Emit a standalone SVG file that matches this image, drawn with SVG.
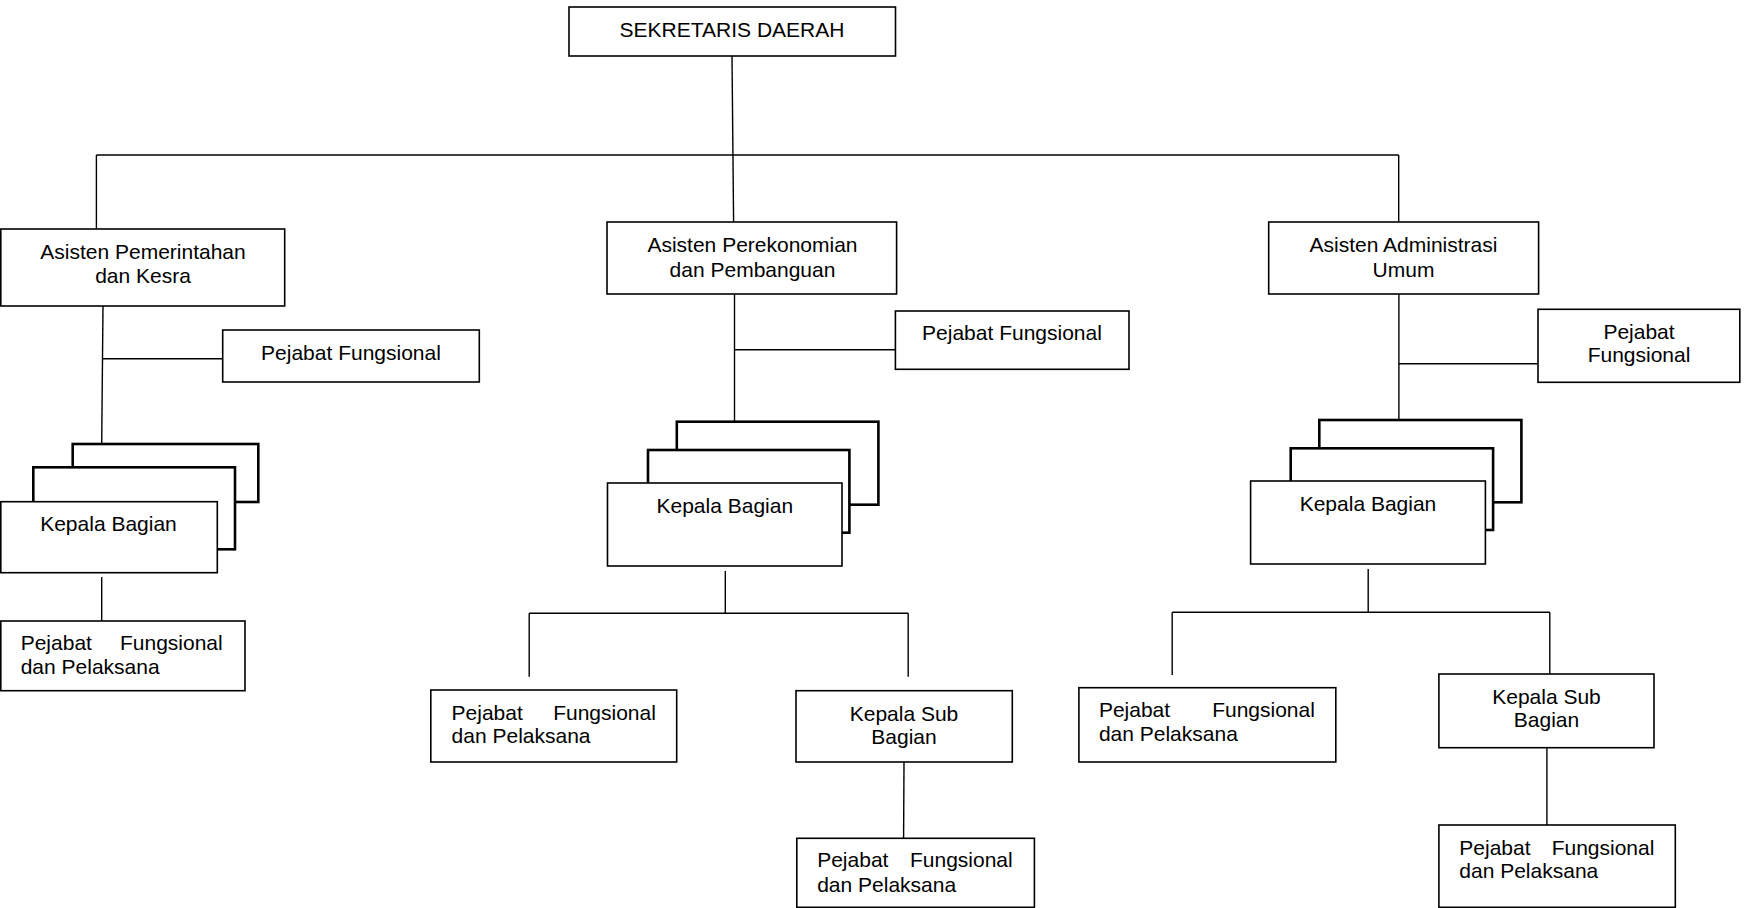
<svg xmlns="http://www.w3.org/2000/svg" width="1747" height="908" viewBox="0 0 1747 908">
  <style>
    .box { fill: #fff; stroke: #000; stroke-width: 1.6; }
    .stack { fill: #fff; stroke: #000; stroke-width: 2.6; }
    .conn { fill: none; stroke: #000; stroke-width: 1.4; }
    text { font-family: "Liberation Sans", Arial, sans-serif; font-size: 21px; fill: #000; }
    .c { text-anchor: middle; }
    .e { text-anchor: end; }
  </style>
  <rect width="1747" height="908" fill="#fff"/>

  <!-- connectors -->
  <g id="connectors" class="conn">
    <!-- top level -->
    <line x1="732" y1="56" x2="733.6" y2="222"/>
    <line x1="96.4" y1="155" x2="1398.7" y2="155"/>
    <line x1="96.4" y1="155" x2="96.4" y2="229"/>
    <line x1="1398.7" y1="155" x2="1398.7" y2="222"/>
    <!-- left branch -->
    <line x1="103" y1="306" x2="101.7" y2="444"/>
    <line x1="103" y1="358.7" x2="225.7" y2="358.7"/>
    <line x1="101.7" y1="577" x2="101.7" y2="621"/>
    <!-- middle branch -->
    <line x1="734.5" y1="294" x2="734.5" y2="421.7"/>
    <line x1="734.5" y1="349.7" x2="895.4" y2="349.7"/>
    <line x1="725.3" y1="571" x2="725.3" y2="613.3"/>
    <line x1="529.2" y1="613.3" x2="908.2" y2="613.3"/>
    <line x1="529.2" y1="613.3" x2="529.2" y2="676.7"/>
    <line x1="908.2" y1="613.3" x2="908.2" y2="676.7"/>
    <line x1="904" y1="762" x2="903.6" y2="838.3"/>
    <!-- right branch -->
    <line x1="1398.9" y1="294" x2="1398.9" y2="420"/>
    <line x1="1398.9" y1="363.7" x2="1538" y2="363.7"/>
    <line x1="1368.2" y1="569" x2="1368.2" y2="612.3"/>
    <line x1="1172.2" y1="612.3" x2="1549.8" y2="612.3"/>
    <line x1="1172.2" y1="612.3" x2="1172.2" y2="675"/>
    <line x1="1549.8" y1="612.3" x2="1549.8" y2="674"/>
    <line x1="1546.9" y1="747.7" x2="1546.9" y2="825"/>
  </g>

  <g id="sekretaris-daerah">
    <rect class="box" x="569" y="7" width="326.5" height="49"/>
    <text class="c" x="732" y="36.5">SEKRETARIS DAERAH</text>
  </g>

  <!-- left column -->
  <g id="asisten-pemerintahan">
    <rect class="box" x="0.8" y="229" width="283.9" height="77"/>
    <text class="c" x="143" y="259">Asisten Pemerintahan</text>
    <text class="c" x="143" y="282.7">dan Kesra</text>
  </g>
  <g id="pf-pemerintahan">
    <rect class="box" x="222.7" y="330" width="256.6" height="52"/>
    <text class="c" x="351" y="360">Pejabat Fungsional</text>
  </g>
  <g id="kabag-pemerintahan">
    <rect class="stack" x="72.7" y="444" width="185.6" height="58"/>
    <rect class="stack" x="33.3" y="467.3" width="201.7" height="82"/>
    <rect class="box" x="0.8" y="501.7" width="216.5" height="71"/>
    <text class="c" x="108.5" y="530.7">Kepala Bagian</text>
  </g>
  <g id="pfp-pemerintahan">
    <rect class="box" x="0.8" y="621" width="244.2" height="69.7"/>
    <text y="650"><tspan x="20.7">Pejabat</tspan><tspan class="e" x="222.7">Fungsional</tspan></text>
    <text x="20.7" y="674">dan Pelaksana</text>
  </g>

  <!-- middle column -->
  <g id="asisten-perekonomian">
    <rect class="box" x="607" y="222" width="289.6" height="72"/>
    <text class="c" x="752.5" y="252.3">Asisten Perekonomian</text>
    <text class="c" x="752.5" y="276.7">dan Pembanguan</text>
  </g>
  <g id="pf-perekonomian">
    <rect class="box" x="895.4" y="311" width="233.6" height="58.3"/>
    <text class="c" x="1012" y="340">Pejabat Fungsional</text>
  </g>
  <g id="kabag-perekonomian">
    <rect class="stack" x="676.8" y="421.7" width="201.6" height="83"/>
    <rect class="stack" x="648" y="450" width="201.4" height="82.7"/>
    <rect class="box" x="607.5" y="483" width="234.5" height="83"/>
    <text class="c" x="724.8" y="512.7">Kepala Bagian</text>
  </g>
  <g id="pfp-perekonomian">
    <rect class="box" x="430.8" y="690" width="245.9" height="72"/>
    <text y="720"><tspan x="451.6">Pejabat</tspan><tspan class="e" x="655.9">Fungsional</tspan></text>
    <text x="451.6" y="743.3">dan Pelaksana</text>
  </g>
  <g id="kasubag-perekonomian">
    <rect class="box" x="796" y="690.7" width="216.3" height="71.3"/>
    <text class="c" x="904" y="720.7">Kepala Sub</text>
    <text class="c" x="904" y="744">Bagian</text>
  </g>
  <g id="pfp-kasubag-perekonomian">
    <rect class="box" x="796.8" y="838.3" width="237.6" height="69"/>
    <text y="867.3"><tspan x="817.2">Pejabat</tspan><tspan class="e" x="1012.7">Fungsional</tspan></text>
    <text x="817.2" y="891.7">dan Pelaksana</text>
  </g>

  <!-- right column -->
  <g id="asisten-administrasi">
    <rect class="box" x="1268.7" y="222" width="269.9" height="72"/>
    <text class="c" x="1403.5" y="252.3">Asisten Administrasi</text>
    <text class="c" x="1403.5" y="276.7">Umum</text>
  </g>
  <g id="pf-administrasi">
    <rect class="box" x="1538" y="309.3" width="201.8" height="73"/>
    <text class="c" x="1639" y="339">Pejabat</text>
    <text class="c" x="1639" y="362.3">Fungsional</text>
  </g>
  <g id="kabag-administrasi">
    <rect class="stack" x="1319.3" y="420" width="202.1" height="82.3"/>
    <rect class="stack" x="1290.7" y="448.3" width="202.4" height="81.7"/>
    <rect class="box" x="1250.6" y="481" width="234.8" height="83"/>
    <text class="c" x="1368" y="510.7">Kepala Bagian</text>
  </g>
  <g id="pfp-administrasi">
    <rect class="box" x="1078.9" y="687.7" width="256.9" height="74.3"/>
    <text y="716.7"><tspan x="1098.9">Pejabat</tspan><tspan class="e" x="1314.9">Fungsional</tspan></text>
    <text x="1098.9" y="740.7">dan Pelaksana</text>
  </g>
  <g id="kasubag-administrasi">
    <rect class="box" x="1438.9" y="674" width="215.1" height="73.7"/>
    <text class="c" x="1546.5" y="704">Kepala Sub</text>
    <text class="c" x="1546.5" y="727.3">Bagian</text>
  </g>
  <g id="pfp-kasubag-administrasi">
    <rect class="box" x="1438.9" y="825" width="236.4" height="82.3"/>
    <text y="855"><tspan x="1459.3">Pejabat</tspan><tspan class="e" x="1654.4">Fungsional</tspan></text>
    <text x="1459.3" y="878.3">dan Pelaksana</text>
  </g>
</svg>
